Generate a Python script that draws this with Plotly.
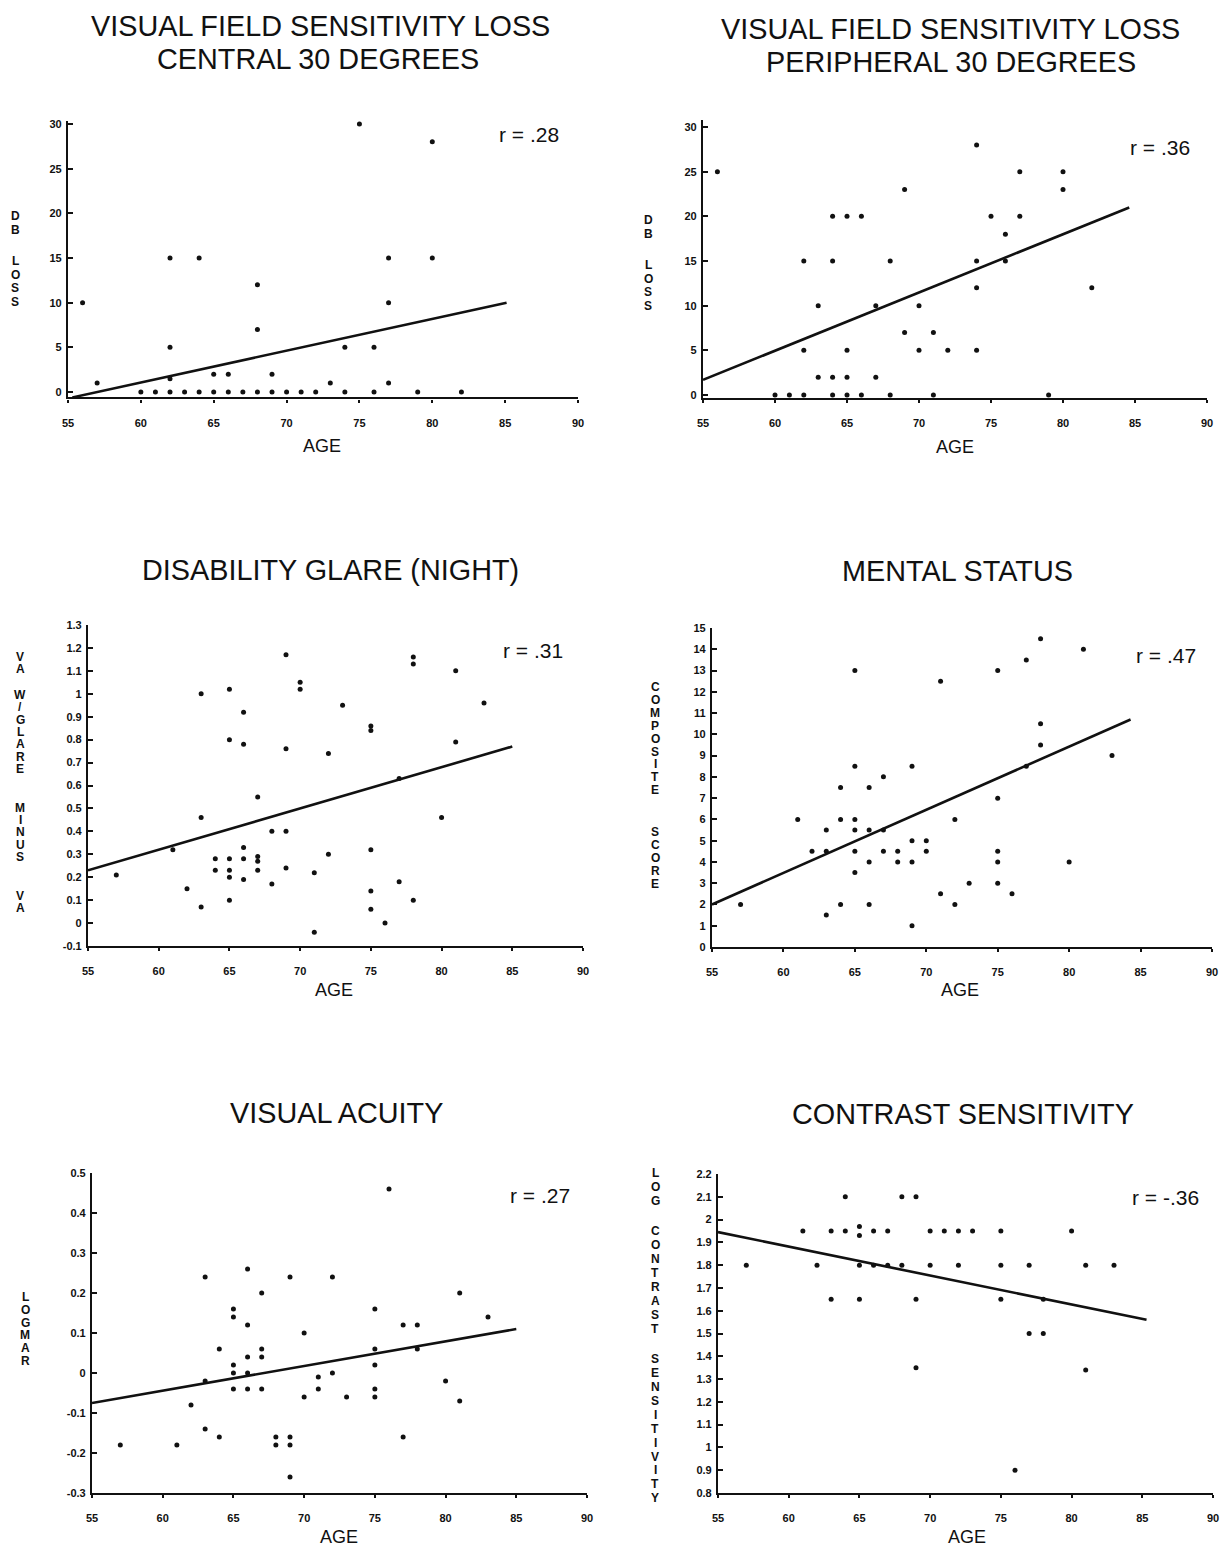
import plotly.graph_objects as go

W, H = 1229, 1550
OFF = 8  # page body margin offset in the browser

# ---------------- data ----------------
age_central = [56, 57, 62, 64, 62, 68, 68, 60, 61, 62, 63, 64, 65, 66, 67, 68, 69, 70, 71,
               62, 65, 66, 69, 75, 80, 77, 80, 77, 74, 76, 72, 73, 74, 76, 77, 79, 82]
loss_central = [10, 1, 15, 15, 5, 12, 7, 0, 0, 0, 0, 0, 0, 0, 0, 0, 0, 0, 0,
                1.5, 2, 2, 2, 30, 28, 15, 15, 10, 5, 5, 0, 1, 0, 0, 1, 0, 0]
fit_central_x = [55.3, 85.1]
fit_central_y = [-0.6, 10]

age_periph = [56, 69, 64, 65, 66, 62, 64, 68, 63, 67, 70, 69, 71, 62, 65, 70, 63, 64, 65, 67,
              60, 61, 62, 64, 65, 66, 68, 74, 77, 80, 80, 75, 77, 76, 74, 76, 74, 82, 72, 74, 71, 79]
loss_periph = [25, 23, 20, 20, 20, 15, 15, 15, 10, 10, 10, 7, 7, 5, 5, 5, 2, 2, 2, 2,
               0, 0, 0, 0, 0, 0, 0, 28, 25, 25, 23, 20, 20, 18, 15, 15, 12, 12, 5, 5, 0, 0]
fit_periph_x = [55, 84.6]
fit_periph_y = [1.7, 21]

age_glare = [57, 61, 62, 63, 63, 63, 64, 64, 65, 65, 65, 65, 65, 65, 66, 66, 66, 66, 66,
             67, 67, 67, 67, 68, 68, 69, 69, 69, 69, 70, 70, 73, 75, 75, 72, 78, 78, 81, 83,
             81, 80, 75, 72, 71, 75, 77, 78, 75, 76, 71, 77]
glare = [0.21, 0.32, 0.15, 1.0, 0.46, 0.07, 0.28, 0.23, 1.02, 0.8, 0.28, 0.23, 0.2, 0.1,
         0.92, 0.78, 0.33, 0.28, 0.19, 0.55, 0.29, 0.27, 0.23, 0.4, 0.17, 1.17, 0.76, 0.4,
         0.24, 1.05, 1.02, 0.95, 0.86, 0.84, 0.74, 1.16, 1.13, 1.1, 0.96, 0.79, 0.46, 0.32,
         0.3, 0.22, 0.14, 0.18, 0.1, 0.06, 0.0, -0.04, 0.63]
fit_glare_x = [55, 85]
fit_glare_y = [0.23, 0.77]

age_mental = [57, 61, 62, 63, 63, 63, 64, 64, 64, 65, 65, 65, 65, 65, 65, 66, 66, 66, 66,
              67, 67, 67, 68, 68, 69, 69, 69, 69, 70, 70, 71, 72, 71, 72, 73, 75, 75, 75, 75,
              75, 76, 77, 78, 78, 78, 81, 83, 80, 77]
mental = [2, 6, 4.5, 5.5, 4.5, 1.5, 7.5, 6, 2, 13, 8.5, 6, 5.5, 4.5, 3.5, 7.5, 5.5, 4, 2,
          8, 5.5, 4.5, 4.5, 4, 8.5, 5, 4, 1, 5, 4.5, 12.5, 6, 2.5, 2, 3, 13, 7, 4.5, 4, 3,
          2.5, 13.5, 14.5, 10.5, 9.5, 14, 9, 4, 8.5]
fit_mental_x = [55, 84.3]
fit_mental_y = [2, 10.7]

age_acuity = [57, 61, 62, 63, 63, 63, 64, 64, 65, 65, 65, 65, 65, 66, 66, 66, 66, 66,
              67, 67, 67, 67, 68, 68, 69, 69, 69, 69, 76, 72, 70, 81, 83, 75, 77, 78, 75,
              78, 75, 71, 72, 71, 70, 73, 75, 75, 80, 81, 77]
logmar = [-0.18, -0.18, -0.08, 0.24, -0.14, -0.02, 0.06, -0.16, 0.16, 0.14, 0.02, 0.0,
          -0.04, 0.26, 0.12, 0.04, 0.0, -0.04, 0.2, 0.06, 0.04, -0.04, -0.16, -0.18, -0.16,
          -0.18, -0.26, 0.24, 0.46, 0.24, 0.1, 0.2, 0.14, 0.16, 0.12, 0.12, 0.06, 0.06, 0.02,
          -0.01, 0.0, -0.04, -0.06, -0.06, -0.04, -0.06, -0.02, -0.07, -0.16]
fit_acuity_x = [55, 85]
fit_acuity_y = [-0.075, 0.11]

age_contrast = [57, 61, 62, 63, 63, 64, 64, 65, 65, 65, 65, 66, 66, 67, 67, 68, 68, 69, 69,
                69, 70, 70, 71, 72, 72, 73, 75, 75, 75, 80, 77, 81, 83, 78, 77, 78, 81, 76]
contrast = [1.8, 1.95, 1.8, 1.95, 1.65, 2.1, 1.95, 1.97, 1.93, 1.8, 1.65, 1.95, 1.8, 1.95,
            1.8, 2.1, 1.8, 2.1, 1.65, 1.35, 1.95, 1.8, 1.95, 1.95, 1.8, 1.95, 1.95, 1.8, 1.65,
            1.95, 1.8, 1.8, 1.8, 1.65, 1.5, 1.5, 1.34, 0.9]
fit_contrast_x = [55, 85.3]
fit_contrast_y = [1.945, 1.56]

x_ticks = [55, 60, 65, 70, 75, 80, 85, 90]
loss_ticks = [0, 5, 10, 15, 20, 25, 30]
glare_ticks = [-0.1, 0, 0.1, 0.2, 0.3, 0.4, 0.5, 0.6, 0.7, 0.8, 0.9, 1, 1.1, 1.2, 1.3]
glare_labels = ["-0.1", "0", "0.1", "0.2", "0.3", "0.4", "0.5", "0.6", "0.7", "0.8", "0.9",
                "1", "1.1", "1.2", "1.3"]
mental_ticks = list(range(0, 16))
acuity_ticks = [-0.3, -0.2, -0.1, 0, 0.1, 0.2, 0.3, 0.4, 0.5]
acuity_labels = ["-0.3", "-0.2", "-0.1", "0", "0.1", "0.2", "0.3", "0.4", "0.5"]
contrast_ticks = [0.8, 0.9, 1, 1.1, 1.2, 1.3, 1.4, 1.5, 1.6, 1.7, 1.8, 1.9, 2, 2.1, 2.2]
contrast_labels = ["0.8", "0.9", "1", "1.1", "1.2", "1.3", "1.4", "1.5", "1.6", "1.7", "1.8",
                   "1.9", "2", "2.1", "2.2"]

# ---------------- layout of panels ----------------
panels = [
    dict(x=age_central, y=loss_central, fx=fit_central_x, fy=fit_central_y,
         xr=[55, 90], xpx=[68, 578], yr=[-0.6, 30.3], ypx=[397.4, 121.3],
         yt=loss_ticks, ytt=[str(v) for v in loss_ticks],
         titles=[("VISUAL FIELD SENSITIVITY LOSS", 320, 26), ("CENTRAL 30 DEGREES", 318, 59)],
         age=(322, 446), r="r = .28", rpos=(529, 135),
         ylab="DB LOSS", ylx=15, yly=216, step=13.5, gap=1.37),
    dict(x=age_periph, y=loss_periph, fx=fit_periph_x, fy=fit_periph_y,
         xr=[55, 90], xpx=[703, 1207], yr=[-0.3, 30.8], ypx=[397.7, 119.9],
         yt=loss_ticks, ytt=[str(v) for v in loss_ticks],
         titles=[("VISUAL FIELD SENSITIVITY LOSS", 950, 29), ("PERIPHERAL 30 DEGREES", 951, 62)],
         age=(955, 447), r="r = .36", rpos=(1160, 147),
         ylab="DB LOSS", ylx=648, yly=220, step=13.5, gap=1.37),
    dict(x=age_glare, y=glare, fx=fit_glare_x, fy=fit_glare_y,
         xr=[55, 90], xpx=[88, 583], yr=[-0.1, 1.3], ypx=[946, 625],
         yt=glare_ticks, ytt=glare_labels,
         titles=[("DISABILITY GLARE (NIGHT)", 330, 570)],
         age=(334, 990), r="r = .31", rpos=(533, 650),
         ylab="VA W/GLARE  MINUS  VA", ylx=20, yly=657, step=12.4, gap=1.05),
    dict(x=age_mental, y=mental, fx=fit_mental_x, fy=fit_mental_y,
         xr=[55, 90], xpx=[712, 1212], yr=[0, 15], ypx=[947, 628],
         yt=mental_ticks, ytt=[str(v) for v in mental_ticks],
         titles=[("MENTAL STATUS", 957, 571)],
         age=(960, 990), r="r = .47", rpos=(1166, 655),
         ylab="COMPOSITE  SCORE", ylx=655, yly=687, step=12.9, gap=1.13),
    dict(x=age_acuity, y=logmar, fx=fit_acuity_x, fy=fit_acuity_y,
         xr=[55, 90], xpx=[92, 587], yr=[-0.3, 0.5], ypx=[1493, 1173],
         yt=acuity_ticks, ytt=acuity_labels,
         titles=[("VISUAL ACUITY", 336, 1113)],
         age=(339, 1537), r="r = .27", rpos=(540, 1195),
         ylab="LOGMAR", ylx=25, yly=1297, step=12.8, gap=1.0),
    dict(x=age_contrast, y=contrast, fx=fit_contrast_x, fy=fit_contrast_y,
         xr=[55, 90], xpx=[718, 1213], yr=[0.8, 2.2], ypx=[1493, 1174],
         yt=contrast_ticks, ytt=contrast_labels,
         titles=[("CONTRAST SENSITIVITY", 963, 1114)],
         age=(967, 1537), r="r = -.36", rpos=(1165, 1197),
         ylab="LOG CONTRAST SENSITIVITY", ylx=655, yly=1173, step=13.9, gap=1.2),
]

FONT = "Liberation Sans, Arial, sans-serif"
INK = "#111111"

fig = go.Figure()
annotations = []


def px_x(p):
    return (p - OFF) / W


def px_y(p):
    return 1 - (p - OFF) / H


def ann(text, xp, yp, size, bold=False, xanchor="center"):
    annotations.append(dict(
        text=text, x=px_x(xp), y=px_y(yp), xref="paper", yref="paper",
        xanchor=xanchor, yanchor="middle", showarrow=False,
        font=dict(family=FONT, size=size, color=INK, weight="bold" if bold else "normal")))


for i, p in enumerate(panels, start=1):
    xa = "x" if i == 1 else f"x{i}"
    ya = "y" if i == 1 else f"y{i}"
    fig.add_trace(go.Scatter(x=p["x"], y=p["y"], mode="markers", xaxis=xa, yaxis=ya,
                             marker=dict(color=INK, size=5), showlegend=False,
                             cliponaxis=False))
    fig.add_trace(go.Scatter(x=p["fx"], y=p["fy"], mode="lines", xaxis=xa, yaxis=ya,
                             line=dict(color=INK, width=2.6), showlegend=False))
    xkey = "xaxis" if i == 1 else f"xaxis{i}"
    ykey = "yaxis" if i == 1 else f"yaxis{i}"
    fig.layout[xkey] = dict(
        domain=[px_x(p["xpx"][0]), px_x(p["xpx"][1])], range=p["xr"], anchor=ya,
        showline=True, linecolor=INK, linewidth=2.2, showgrid=False, zeroline=False,
        ticks="outside", ticklen=3, tickwidth=1.5, tickcolor=INK, automargin=False,
        tickvals=x_ticks, ticktext=[str(v) for v in x_ticks], ticklabelstandoff=11,
        tickfont=dict(family=FONT, size=11, color=INK, weight="bold"), fixedrange=True)
    fig.layout[ykey] = dict(
        domain=[px_y(p["ypx"][0]), px_y(p["ypx"][1])], range=p["yr"], anchor=xa,
        showline=True, linecolor=INK, linewidth=2.2, showgrid=False, zeroline=False,
        ticks="inside", ticklen=5, tickwidth=1.5, tickcolor=INK, automargin=False,
        tickvals=p["yt"], ticktext=p["ytt"], ticklabelstandoff=2,
        tickfont=dict(family=FONT, size=11, color=INK, weight="bold"), fixedrange=True)

    for text, tx, ty in p["titles"]:
        ann(text, tx, ty, 28.8)
    ann("AGE", p["age"][0], p["age"][1], 18)
    ann(p["r"], p["rpos"][0], p["rpos"][1], 21)

    # vertically stacked y-axis label letters
    pos = 0.0
    for ch in p["ylab"]:
        if ch == " ":
            pos += p["gap"]
            continue
        ann(ch, p["ylx"], p["yly"] + pos * p["step"], 12, bold=True)
        pos += 1

fig.update_layout(width=W, height=H,
                  margin=dict(l=0, r=0, t=0, b=0, pad=0, autoexpand=False),
                  paper_bgcolor="white", plot_bgcolor="white",
                  annotations=annotations, showlegend=False)

fig.write_html("out.html")
